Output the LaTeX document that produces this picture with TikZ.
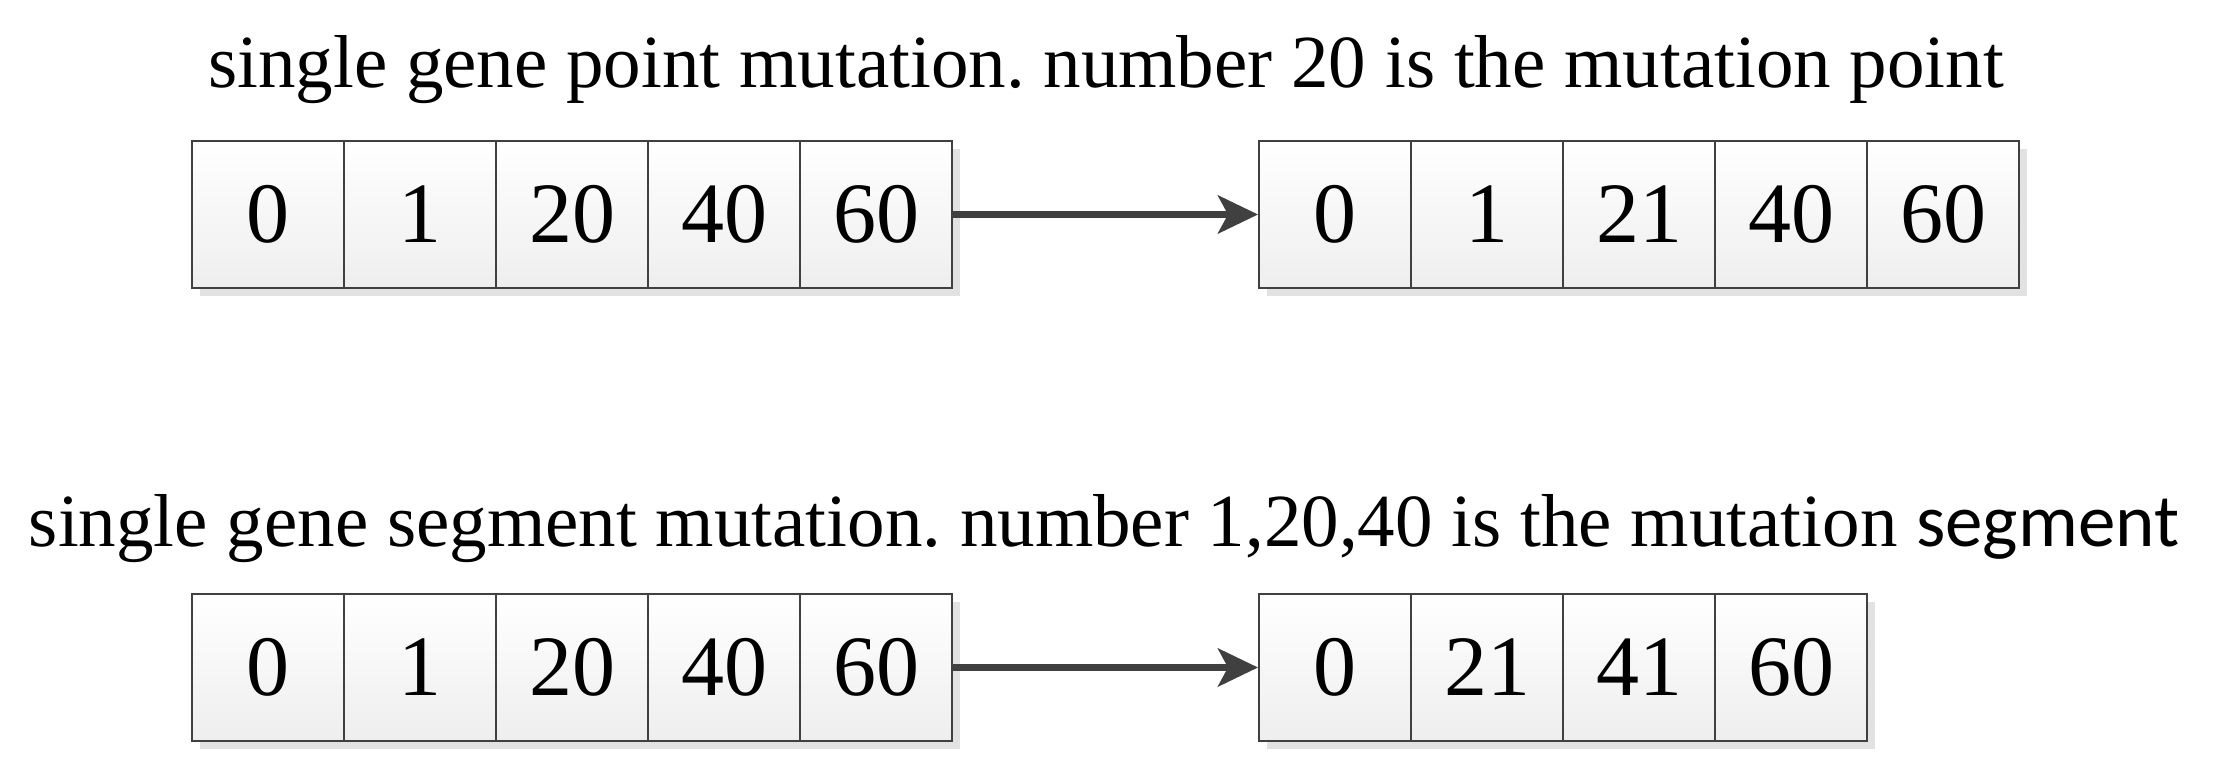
\documentclass[tikz,border=0pt]{standalone}
\usepackage{fontspec}
\setmainfont{Liberation Serif}
\newfontfamily\segfont{Carlito}
\usetikzlibrary{shadows,arrows.meta}
\definecolor{edge}{HTML}{404040}
\definecolor{shade}{HTML}{E2E2E2}
\definecolor{cellbot}{HTML}{EEEEEE}
\frenchspacing
\begin{document}
\begin{tikzpicture}[x=1pt,y=-1pt,
  cell/.style={draw=edge, line width=2pt, top color=white, bottom color=cellbot,
    minimum width=152pt, minimum height=147pt, inner sep=0pt,
    font=\fontsize{86}{90}\selectfont,
    drop shadow={shadow xshift=8pt, shadow yshift=-8pt, fill=shade, opacity=1}},
  title/.style={anchor=base, inner sep=0pt, font=\fontsize{75}{80}\selectfont},
  conn/.style={draw=edge, line width=7pt, -{Stealth[length=40pt,width=38pt,inset=10pt]}}
]
\useasboundingbox (0,0) rectangle (2219,773);
\node[title] (t1) at (1106,88) {single gene point mutation. number 20 is the mutation point};
\node[title] (t2) at (1104,546) {single gene segment mutation. number 1,20,40 is the mutation {\segfont segment}};
% row 1 left
\foreach \v [count=\i from 0] in {0,1,20,40,60}
  \node[cell] (a\i) at ({192+76+152*\i},214.5) {\v};
% row 1 right
\foreach \v [count=\i from 0] in {0,1,21,40,60}
  \node[cell] (b\i) at ({1259+76+152*\i},214.5) {\v};
% row 2 left
\foreach \v [count=\i from 0] in {0,1,20,40,60}
  \node[cell] (c\i) at ({192+76+152*\i},667.5) {\v};
% row 2 right
\foreach \v [count=\i from 0] in {0,21,41,60}
  \node[cell] (d\i) at ({1259+76+152*\i},667.5) {\v};
\draw[conn] (a4.east) -- (b0.west);
\draw[conn] (c4.east) -- (d0.west);
\end{tikzpicture}
\end{document}
